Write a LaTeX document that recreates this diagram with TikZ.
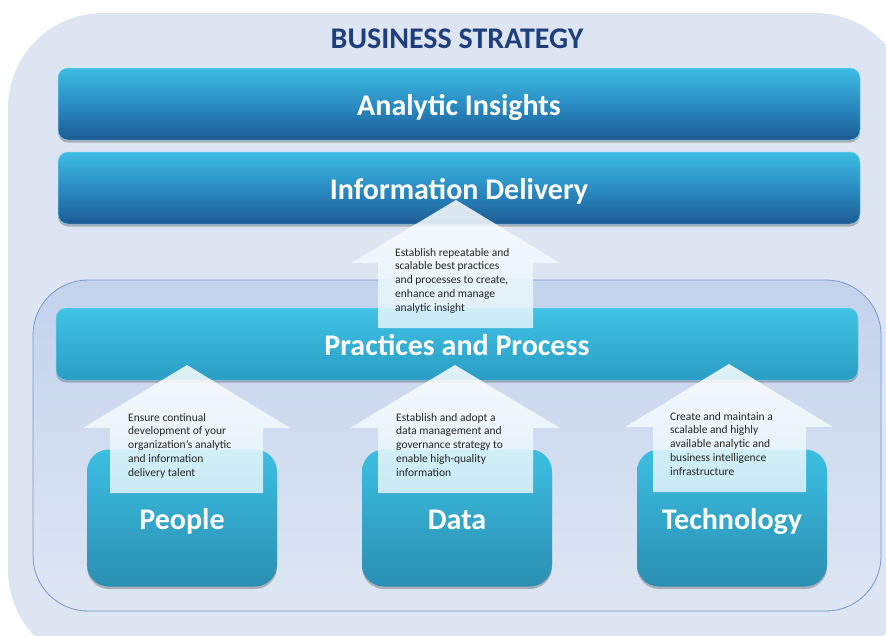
\documentclass[tikz,border=0pt]{standalone}
\usepackage{fontspec}
\setmainfont{Carlito}
\usetikzlibrary{shadows}

\definecolor{outerbg}{HTML}{DDE5F2}
\definecolor{innertop}{HTML}{C3D3EC}
\definecolor{innerbottom}{HTML}{DEE6F3}
\definecolor{innerline}{HTML}{7396CF}
\definecolor{titleblue}{HTML}{1F3F7C}
\definecolor{bartop}{HTML}{3DBDE3}
\definecolor{barmid}{HTML}{2A8CC3}
\definecolor{barbottom}{HTML}{1D5B94}
\definecolor{proctop}{HTML}{40C3E6}
\definecolor{procbottom}{HTML}{2A9DC4}
\definecolor{boxtop}{HTML}{3CBFE2}
\definecolor{boxbottom}{HTML}{2A8FB2}
\definecolor{arrowtint}{HTML}{E2F4FA}

\begin{document}
\begin{tikzpicture}[x=1pt, y=-1pt,
    softshadow/.style={drop shadow={shadow xshift=0pt, shadow yshift=-2.5pt, opacity=0.35, fill=black!70}},
    bigtext/.style={text=white, font=\fontsize{30}{35}\selectfont\bfseries, text height=25pt, text depth=3pt},
    bar/.style={rounded corners=10pt, minimum width=802pt, minimum height=72pt,
        draw=bartop!70!white, line width=0.5pt, bigtext, softshadow},
    topbar/.style={bar, top color=bartop, bottom color=barbottom, middle color=barmid},
    procbar/.style={bar, top color=proctop, bottom color=procbottom},
    pillar/.style={rounded corners=22pt, minimum width=190pt, minimum height=137pt,
        top color=boxtop, bottom color=boxbottom, bigtext, text height=26pt, text depth=3pt, softshadow},
    uparrow/.style={top color=white, bottom color=arrowtint, fill opacity=0.85, draw=none},
    note/.style={anchor=north west, align=left, inner sep=0pt,
        font=\fontsize{11.5}{13.8}\selectfont, text=black!85}]

    \useasboundingbox (0,0) rectangle (886,635);

    % Background panels
    \begin{scope}
        \clip (0,0) rectangle (886,635);
        \fill[outerbg, rounded corners=95pt] (8,13) rectangle (910,665);
    \end{scope}
    \draw[innerline, line width=0.8pt, top color=innertop, bottom color=innerbottom,
        rounded corners=55pt] (33,280) rectangle (881,611);

    % Title and bars
    \node[text=titleblue, font=\fontsize{30}{35}\selectfont\bfseries] (title) at (457,39) {BUSINESS STRATEGY};
    \node[topbar] (insights) at (459,104) {Analytic Insights};
    \node[topbar] (delivery) at (459,188) {Information Delivery};
    \node[procbar] (practices) at (457,344) {Practices and Process};

    % Pillars
    \node[pillar] (people) at (182,518) {People};
    \node[pillar] (data) at (457,518) {Data};
    \node[pillar] (tech) at (732,518) {Technology};

    % Arrows
    \path[uparrow] (456,200) -- ++(104,63) -- ++(-27,0) -- ++(0,65) -- ++(-155,0) -- ++(0,-65) -- ++(-27,0) -- cycle;
    \path[uparrow] (187,365) -- ++(103,63) -- ++(-27,0) -- ++(0,65) -- ++(-153,0) -- ++(0,-65) -- ++(-27,0) -- cycle;
    \path[uparrow] (455,365) -- ++(105,63) -- ++(-27,0) -- ++(0,65) -- ++(-155,0) -- ++(0,-65) -- ++(-28,0) -- cycle;
    \path[uparrow] (729,364) -- ++(104,63) -- ++(-27,0) -- ++(0,65) -- ++(-153,0) -- ++(0,-65) -- ++(-28,0) -- cycle;

    % Arrow texts
    \node[note] (deliverytxt) at (395,248) {Establish repeatable and\\scalable best practices\\and processes to create,\\enhance and manage\\analytic insight};
    \node[note] (peopletxt) at (128,413) {Ensure continual\\development of your\\organization’s analytic\\and information\\delivery talent};
    \node[note] (datatxt) at (396,413) {Establish and adopt a\\data management and\\governance strategy to\\enable high-quality\\information};
    \node[note] (techtxt) at (670,412) {Create and maintain a\\scalable and highly\\available analytic and\\business intelligence\\infrastructure};

\end{tikzpicture}
\end{document}
